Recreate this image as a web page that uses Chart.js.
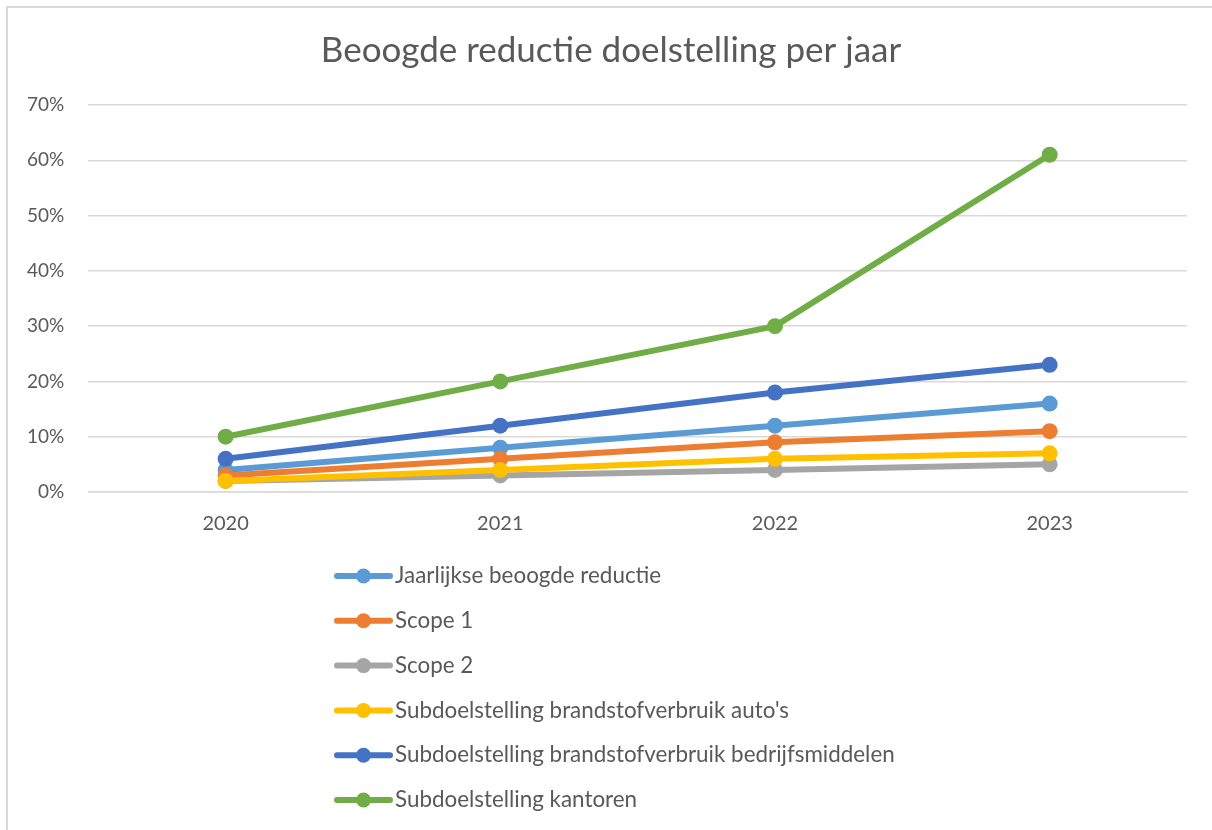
<!DOCTYPE html>
<html>
<head>
<meta charset="utf-8">
<script src="https://cdn.jsdelivr.net/npm/chart.js@4.4.1/dist/chart.umd.min.js"></script>
<style>
  html, body { margin: 0; padding: 0; background: #ffffff; }
  #wrap { width: 1212px; height: 830px; position: relative; }
</style>
</head>
<body>
<div id="wrap"><canvas id="c" width="1212" height="830"></canvas></div>
<script>
const titleText = "Beoogde reductie doelstelling per jaar";
const years = ["2020", "2021", "2022", "2023"];
const seriesNames = [
  "Jaarlijkse beoogde reductie",
  "Scope 1",
  "Scope 2",
  "Subdoelstelling brandstofverbruik auto's",
  "Subdoelstelling brandstofverbruik bedrijfsmiddelen",
  "Subdoelstelling kantoren"
];
const jaarlijkse = [4, 8, 12, 16];
const scope1 = [3, 6, 9, 11];
const scope2 = [2, 3, 4, 5];
const autos = [2, 4, 6, 7];
const bedrijfsmiddelen = [6, 12, 18, 23];
const kantoren = [10, 20, 30, 61];
const seriesColors = ["#5B9BD5", "#ED7D31", "#A5A5A5", "#FFC000", "#4472C4", "#70AD47"];
const yMin = 0, yMax = 70, yStep = 10;

const seriesValues = [jaarlijkse, scope1, scope2, autos, bedrijfsmiddelen, kantoren];
const FONT = "Lato, 'Open Sans', sans-serif";
const TEXT = "#595959";

const datasets = seriesValues.map((vals, i) => ({
  label: seriesNames[i],
  data: vals,
  borderColor: seriesColors[i],
  backgroundColor: seriesColors[i],
  pointBackgroundColor: seriesColors[i],
  pointBorderColor: seriesColors[i],
  borderWidth: 6,
  pointRadius: 8,
  pointHoverRadius: 8,
  pointBorderWidth: 0,
  tension: 0,
  order: seriesValues.length - i
}));

const frameLegend = {
  id: 'frameLegend',
  beforeDraw(chart) {
    const ctx = chart.ctx;
    ctx.save();
    ctx.strokeStyle = "#d9d9d9";
    ctx.lineWidth = 2;
    ctx.beginPath();
    ctx.moveTo(7, 900);
    ctx.lineTo(7, 7);
    ctx.lineTo(1230, 7);
    ctx.stroke();
    ctx.fillStyle = TEXT;
    ctx.font = "35px " + FONT;
    ctx.textAlign = 'center';
    ctx.textBaseline = 'middle';
    ctx.fillText(titleText, 611, 51);
    ctx.restore();
  },
  afterDraw(chart) {
    const ctx = chart.ctx;
    ctx.save();
    const x0 = 337, x1 = 390, startY = 576, gap = 44.8;
    chart.data.datasets.forEach((ds, i) => {
      const y = startY + i * gap;
      ctx.strokeStyle = ds.borderColor;
      ctx.lineWidth = 6;
      ctx.lineCap = 'round';
      ctx.beginPath();
      ctx.moveTo(x0, y);
      ctx.lineTo(x1, y);
      ctx.stroke();
      ctx.fillStyle = ds.borderColor;
      ctx.beginPath();
      ctx.arc((x0 + x1) / 2, y, 7.5, 0, Math.PI * 2);
      ctx.fill();
      ctx.fillStyle = TEXT;
      ctx.font = "22.4px " + FONT;
      ctx.textBaseline = 'middle';
      ctx.textAlign = 'left';
      ctx.fillText(ds.label, 395, y);
    });
    ctx.restore();
  }
};

new Chart(document.getElementById('c'), {
  type: 'line',
  data: { labels: years, datasets },
  plugins: [frameLegend],
  options: {
    responsive: false,
    animation: false,
    devicePixelRatio: 1,
    layout: { padding: { left: 3, right: 25, top: 105, bottom: 274 } },
    plugins: {
      legend: { display: false },
      tooltip: { enabled: false },
      title: { display: false }
    },
    scales: {
      x: {
        offset: true,
        grid: { display: false, drawTicks: false },
        border: { display: true, color: "#d9d9d9", width: 1.5 },
        ticks: { color: TEXT, font: { family: FONT, size: 20 }, padding: 20 }
      },
      y: {
        min: yMin, max: yMax,
        ticks: {
          stepSize: yStep,
          color: TEXT,
          font: { family: FONT, size: 19 },
          padding: 24,
          callback: v => v + "%"
        },
        grid: { color: "#d9d9d9", lineWidth: 1.5, drawTicks: false },
        border: { display: false }
      }
    }
  }
});
</script>
</body>
</html>
